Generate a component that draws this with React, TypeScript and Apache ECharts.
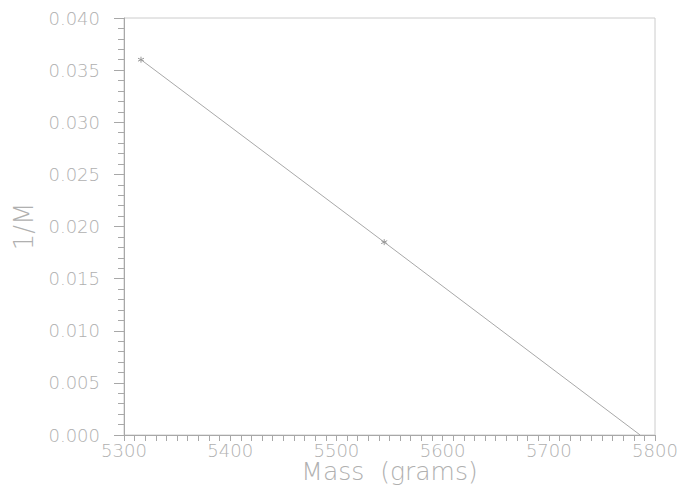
import React, { useEffect, useRef } from "react";
import * as echarts from "echarts";

const massValues = [5316, 5545, 5786];
const invMValues = [0.036, 0.0185, 0.0];
const markedPoints = [true, true, false];
const xAxisName = "Mass  (grams)";
const yAxisName = "1/M";

const STAR = "path://M0,-3L0,3M-2.6,-1.5L2.6,1.5M-2.6,1.5L2.6,-1.5";

export default function App() {
  const ref = useRef<HTMLDivElement>(null);
  useEffect(() => {
    if (!ref.current) return;
    const chart = echarts.init(ref.current, null, { renderer: "svg" });
    const textColor = "#b0b0b0";
    const axisColor = "#a8a8a8";
    const font = "DejaVu Sans";
    const data = massValues.map((x, i) => ({
      value: [x, invMValues[i]],
      symbol: markedPoints[i] ? STAR : "none",
    }));
    chart.setOption({
      animation: false,
      backgroundColor: "#ffffff",
      grid: {
        left: 124,
        right: 23,
        top: 18,
        bottom: 50,
        containLabel: false,
        outerBoundsMode: "none",
        show: true,
        borderColor: "#cccccc",
        borderWidth: 1,
      },
      xAxis: {
        type: "value",
        min: 5300,
        max: 5800,
        interval: 100,
        name: xAxisName,
        nameLocation: "middle",
        nameGap: 24,
        nameMoveOverlap: false,
        nameTextStyle: { color: textColor, fontSize: 25, fontFamily: font, fontWeight: 200, lineHeight: 25 },
        axisLine: { show: true, lineStyle: { color: axisColor, width: 1 } },
        axisTick: { show: true, length: 6, lineStyle: { color: axisColor } },
        minorTick: { show: true, splitNumber: 10, length: 6, lineStyle: { color: axisColor } },
        splitLine: { show: false },
        axisLabel: {
          color: textColor,
          fontSize: 18,
          fontFamily: font,
          fontWeight: 200,
          lineHeight: 14,
          margin: 8,
          formatter: (v: number) => String(v),
        },
      },
      yAxis: {
        type: "value",
        min: 0,
        max: 0.04,
        interval: 0.005,
        name: yAxisName,
        nameLocation: "middle",
        nameGap: 87,
        nameMoveOverlap: false,
        nameTextStyle: { color: textColor, fontSize: 26, fontFamily: font, fontWeight: 200 },
        axisLine: { show: true, lineStyle: { color: axisColor, width: 1 } },
        axisTick: { show: true, length: 10, lineStyle: { color: axisColor } },
        minorTick: { show: true, splitNumber: 5, length: 6, lineStyle: { color: axisColor } },
        splitLine: { show: false },
        axisLabel: {
          color: textColor,
          fontSize: 18,
          fontFamily: font,
          fontWeight: 200,
          margin: 24,
          formatter: (v: number) => v.toFixed(3),
        },
      },
      series: [
        {
          type: "line",
          data,
          symbolSize: 6,
          showSymbol: true,
          lineStyle: { color: axisColor, width: 1 },
          itemStyle: { color: "none", borderColor: "#999999", borderWidth: 1 },
        },
      ],
    });
    return () => chart.dispose();
  }, []);
  return (
    <div
      ref={ref}
      style={{ position: "absolute", left: 0, top: 0, width: 678, height: 485 }}
    />
  );
}
